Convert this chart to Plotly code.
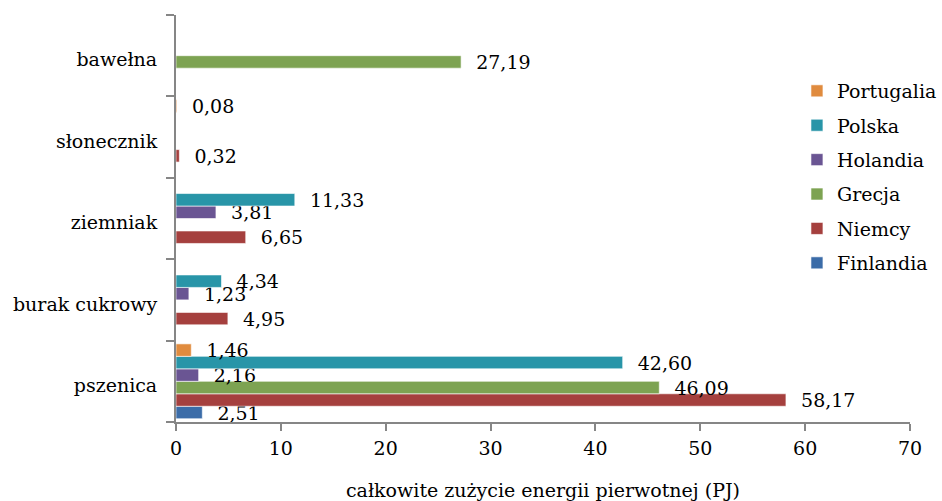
import plotly.graph_objects as go

# Crops, listed bottom to top on the category axis
crops = ["pszenica", "burak cukrowy", "ziemniak", "słonecznik", "bawełna"]

# Primary energy use per country (PJ); None = no data
finlandia = [2.51, None, None, None, None]
niemcy = [58.17, 4.95, 6.65, 0.32, None]
grecja = [46.09, None, None, None, 27.19]
holandia = [2.16, 1.23, 3.81, None, None]
polska = [42.60, 4.34, 11.33, None, None]
portugalia = [1.46, None, None, 0.08, None]

series = [
    ("Finlandia", finlandia, "#3B6CA8"),
    ("Niemcy", niemcy, "#A5403E"),
    ("Grecja", grecja, "#7DA352"),
    ("Holandia", holandia, "#6A5593"),
    ("Polska", polska, "#2895A8"),
    ("Portugalia", portugalia, "#E08B3E"),
]

FONT = "DejaVu Serif"
FS = 19


def fmt(v):
    if v is None:
        return ""
    return "\u00a0\u00a0" + f"{v:.2f}".replace(".", ",")


fig = go.Figure()
n = len(series)
for i, (name, vals, color) in enumerate(series):
    fig.add_trace(go.Bar(
        y=crops,
        x=vals,
        name=name,
        orientation="h",
        marker=dict(color=color, line=dict(color="rgba(255,255,255,0.6)", width=1)),
        text=[fmt(v) for v in vals],
        textposition="outside",
        textfont=dict(family=FONT, size=FS, color="#000000"),
        cliponaxis=False,
        constraintext="none",
        legendgroup=name,
        legendrank=n - i,
    ))

fig.update_layout(
    width=942,
    height=501,
    barmode="group",
    bargap=0.08,
    bargroupgap=0,
    plot_bgcolor="white",
    paper_bgcolor="white",
    font=dict(family=FONT, size=FS, color="#000000"),
    margin=dict(l=176, r=32, t=15, b=79, autoexpand=False),
    showlegend=True,
    legend=dict(
        x=0.846, y=0.86, xanchor="left", yanchor="top",
        traceorder="grouped",
        tracegroupgap=6.7,
        font=dict(family=FONT, size=FS),
        bgcolor="rgba(0,0,0,0)",
        itemwidth=30,
    ),
    xaxis=dict(
        range=[0, 70],
        dtick=10,
        tick0=0,
        showgrid=False,
        zeroline=False,
        showline=True,
        linecolor="#868686",
        linewidth=2,
        ticks="outside",
        ticklen=7,
        tickwidth=2,
        tickcolor="#868686",
        tickfont=dict(family=FONT, size=FS),
        ticklabelstandoff=1,
        automargin=False,
        title=dict(text="całkowite zużycie energii pierwotnej (PJ)",
                   font=dict(family=FONT, size=FS), standoff=40),
    ),
    yaxis=dict(
        type="category",
        categoryorder="array",
        categoryarray=crops,
        showgrid=False,
        zeroline=False,
        showline=True,
        linecolor="#868686",
        linewidth=2,
        ticks="outside",
        tickson="boundaries",
        ticklen=8,
        tickwidth=2,
        tickcolor="#868686",
        tickfont=dict(family=FONT, size=FS),
        ticklabelstandoff=13,
        ticklabelshift=4,
        automargin=False,
    ),
)

fig.write_html("out.html")
